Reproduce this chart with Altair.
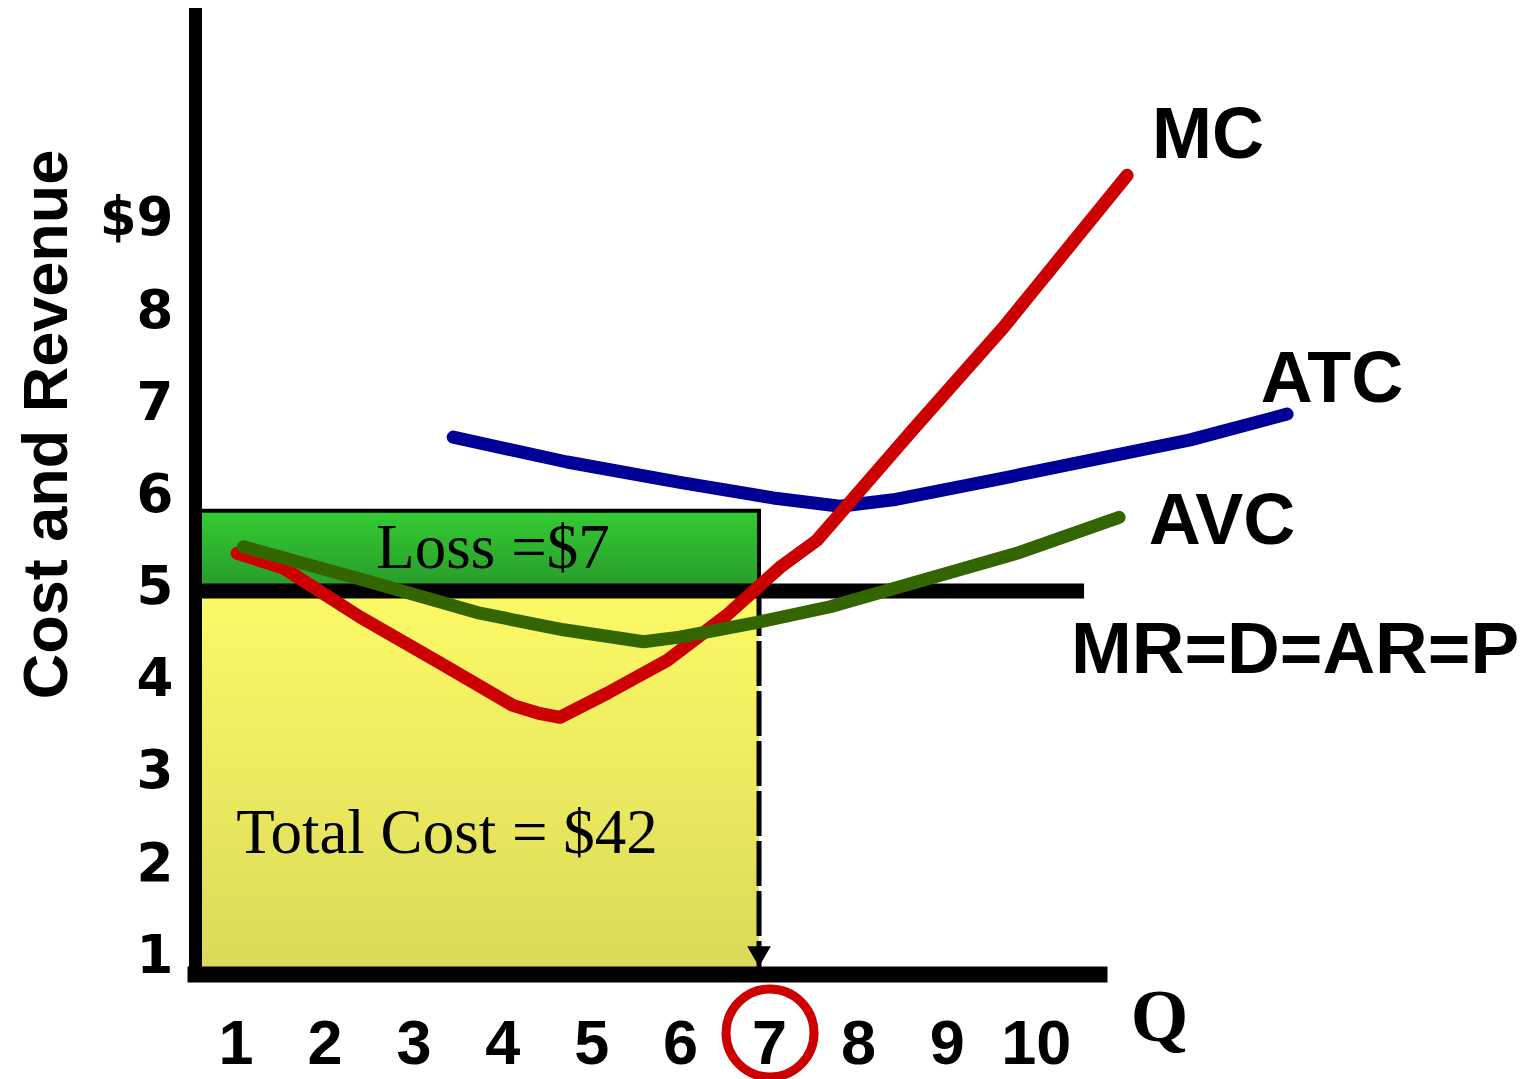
import altair as alt
import pandas as pd

# ---- drawing frame (quantity on x, dollars on y) ----
Q_MIN, Q_MAX = 0.656, 10.824
P_MIN, P_MAX = 0.846, 11.26

q_ticks = [1, 2, 3, 4, 5, 6, 7, 8, 9, 10]
p_ticks = [1, 2, 3, 4, 5, 6, 7, 8, 9]

# ---- cost curves ----
mc_q = [1.13, 1.65, 2.51, 3.41, 4.23, 4.54, 4.76, 5.29, 5.97, 6.64, 7.24, 7.65, 8.73, 9.75, 11.14]
mc_p = [5.41, 5.25, 4.72, 4.22, 3.76, 3.67, 3.63, 3.89, 4.25, 4.74, 5.26, 5.55, 6.75, 7.86, 9.51]

atc_q = [3.56, 4.84, 6.11, 7.16, 7.91, 8.51, 9.82, 11.85, 12.94]
atc_p = [6.67, 6.40, 6.18, 6.01, 5.92, 5.99, 6.24, 6.64, 6.92]

avc_q = [1.20, 2.55, 3.86, 4.80, 5.70, 6.11, 6.98, 7.80, 9.90, 11.05]
avc_p = [5.48, 5.12, 4.76, 4.58, 4.45, 4.50, 4.66, 4.83, 5.41, 5.80]

# ---- market price and chosen output ----
price = 5.0
q_star = 7.0
atc_at_q_star = 5.87
mr_line_end = 10.656

curve_labels = ["MC", "ATC", "AVC", "MR=D=AR=P"]
loss_label = "Loss =$7"
total_cost_label = "Total Cost = $42"

W, H = 904, 960
PAD = {"left": 195, "top": 14, "right": 433, "bottom": 105}

xs = alt.Scale(domain=[Q_MIN, Q_MAX], nice=False, zero=False)
ys = alt.Scale(domain=[P_MIN, P_MAX], nice=False, zero=False)

x_axis = alt.Axis(
    values=q_ticks, format="d", grid=False, ticks=False, tickSize=0,
    labelFont="Liberation Sans", labelFontWeight="bold", labelFontSize=63,
    labelColor="black", labelBaseline="alphabetic", labelPadding=89,
    labelOffset=10, labelFlush=False, labelOverlap=False,
    domainColor="black", domainWidth=16, domainCap="square",
    title="Q", titleFont="Liberation Serif", titleFontWeight="bold",
    titleFontSize=74, titleColor="black", titleX=964, titleY=66,
    titleAlign="center", titleBaseline="alphabetic", zindex=1,
)
y_axis = alt.Axis(
    values=p_ticks, grid=False, ticks=False, tickSize=0,
    labelExpr="datum.value == 9 ? '$9' : datum.label",
    labelFont="DejaVu Sans", labelFontWeight="bold", labelFontSize=53,
    labelColor="black", labelBaseline="alphabetic", labelPadding=22,
    labelOffset=12.5, labelFlush=False, labelOverlap=False,
    domainColor="black", domainWidth=13, domainCap="square",
    title="Cost and Revenue", titleFont="Liberation Sans",
    titleFontWeight="bold", titleFontSize=63, titleColor="black",
    titleAngle=270, titleX=-129, titleY=410, titleAlign="center",
    titleBaseline="alphabetic", zindex=1,
)


def X(field="q"):
    return alt.X(f"{field}:Q", scale=xs, axis=x_axis)


def Y(field="p"):
    return alt.Y(f"{field}:Q", scale=ys, axis=y_axis)


def grad(top, bottom):
    return alt.LinearGradient(
        gradient="linear",
        stops=[alt.GradientStop(color=top, offset=0),
               alt.GradientStop(color=bottom, offset=1)],
        x1=0, x2=0, y1=0, y2=1,
    )


# total cost area (yellow) and loss area (green)
tc_df = pd.DataFrame({"q": [Q_MIN], "q2": [q_star], "p": [P_MIN], "p2": [price]})
loss_df = pd.DataFrame({"q": [Q_MIN], "q2": [q_star], "p": [price], "p2": [atc_at_q_star]})

tc_rect = alt.Chart(tc_df).mark_rect(fill=grad("#fcfa66", "#dad958")).encode(
    x=X(), x2="q2", y=Y(), y2="p2")
loss_rect = alt.Chart(loss_df).mark_rect(
    fill=grad("#33cc33", "#28992a"), stroke="black", strokeWidth=4
).encode(x=X(), x2="q2", y=Y(), y2="p2")

# dashed drop line from the price line down to the quantity axis
drop_df = pd.DataFrame({"q": [q_star], "p": [price], "p2": [P_MIN]})
drop = alt.Chart(drop_df).mark_rule(
    color="black", strokeWidth=5, strokeDash=[45, 5]
).encode(x=X(), y=Y(), y2="p2")

arrow_df = pd.DataFrame({"q": [q_star], "p": [P_MIN]})
arrow = alt.Chart(arrow_df).mark_point(
    shape="triangle-down", filled=True, color="black", opacity=1,
    size=560, yOffset=-17.5
).encode(x=X(), y=Y())

# price line MR = D = AR = P
mr_df = pd.DataFrame({"q": [Q_MIN], "q2": [mr_line_end], "p": [price]})
mr = alt.Chart(mr_df).mark_rule(color="black", strokeWidth=15).encode(
    x=X(), x2="q2", y=Y())


def curve(qs, ps, color):
    df = pd.DataFrame({"q": qs, "p": ps, "i": range(len(qs))})
    return alt.Chart(df).mark_line(
        color=color, strokeWidth=13, strokeCap="round", strokeJoin="round"
    ).encode(x=X(), y=Y(), order="i:O")


atc_line = curve(atc_q, atc_p, "#000099")
mc_line = curve(mc_q, mc_p, "#cc0000")
avc_line = curve(avc_q, avc_p, "#336600")


def label(text, x, y, size, font="Liberation Sans", weight="bold"):
    return alt.Chart(pd.DataFrame({"t": [text]})).mark_text(
        font=font, fontWeight=weight, fontSize=size, color="black",
        align="center", baseline="alphabetic"
    ).encode(text="t:N", x=alt.value(x), y=alt.value(y))


labels = [
    label(curve_labels[0], 1013, 144, 72),
    label(curve_labels[1], 1137, 388, 72),
    label(curve_labels[2], 1027, 530, 72),
    label(curve_labels[3], 1100, 659, 73),
    label(loss_label, 298, 554, 63, font="Liberation Serif", weight="normal"),
    label(total_cost_label, 252, 839, 63, font="Liberation Serif", weight="normal"),
]

# ring around the chosen output on the quantity axis
ring_df = pd.DataFrame({"q": [q_star]})
ring = alt.Chart(ring_df).mark_point(
    shape="circle", filled=False, color="#cc0000", opacity=1,
    size=7744, strokeWidth=9, xOffset=11
).encode(x=X(), y=alt.value(1019))

chart = alt.layer(
    tc_rect, loss_rect, drop, arrow, mr, atc_line, mc_line, avc_line,
    *labels, ring
).properties(
    width=W, height=H, padding=PAD,
    autosize=alt.AutoSizeParams(type="none"),
    background="white",
).configure_view(stroke=None)

chart.save("out.html", embed_options={"renderer": "svg", "actions": False})
